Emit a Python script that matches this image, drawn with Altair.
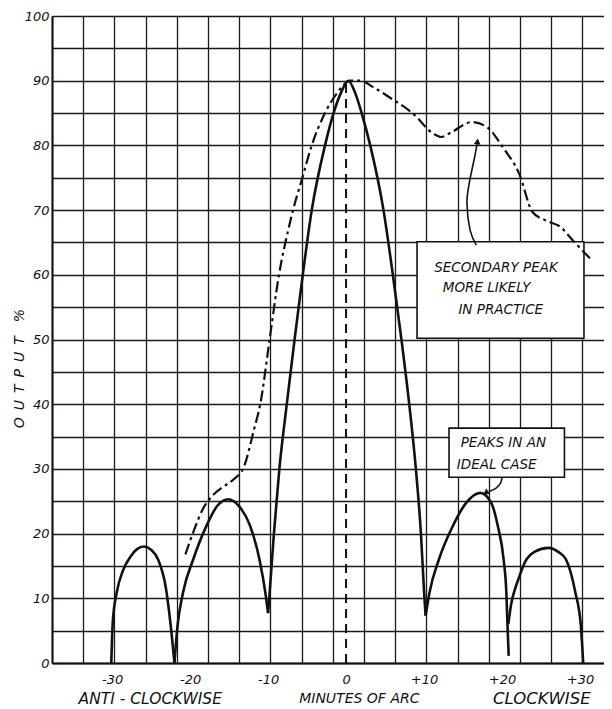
import altair as alt
import pandas as pd

# ---------------- data ----------------
x_tick_values = [-30, -20, -10, 0, 10, 20, 30]
y_tick_values = [0, 5, 10, 15, 20, 25, 30, 35, 40, 45, 50, 55, 60, 65, 70, 75, 80, 85, 90, 95, 100]

# ideal case (solid) - separate lobes so the minima stay sharp
lobe_l3_x = [-30.1, -29.9, -29.4, -28.6, -27.6, -26.8, -25.9, -25.0, -24.1, -23.1, -22.5, -22.0]
lobe_l3_y = [0, 6.5, 10.9, 14.3, 16.5, 17.6, 18.0, 17.5, 16.0, 11.6, 6.0, 0]
lobe_l2_x = [-22.0, -21.6, -20.9, -19.6, -17.9, -16.5, -15.1, -13.7, -12.3, -11.1, -10.35, -10.0]
lobe_l2_y = [0, 5.8, 10.9, 16.0, 21.2, 24.3, 25.3, 24.2, 21.2, 16.0, 10.9, 7.7]
main_x = [-10.0, -9.85, -9.25, -8.55, -7.6, -6.6, -5.55, -4.4, -2.7, -1.6, -0.7, 0.3,
          1.2, 2.0, 3.1, 4.8, 6.0, 7.1, 8.1, 8.95, 9.6, 10.05, 10.2]
main_y = [7.7, 10, 20, 30, 40, 50, 60, 70, 80, 85, 88, 90,
          88, 85, 80, 70, 60, 50, 40, 30, 20, 10, 7.3]
lobe_r1_x = [10.2, 10.7, 11.9, 13.7, 15.3, 17.2, 18.6, 19.45, 20.2, 20.55, 20.7, 20.85]
lobe_r1_y = [7.3, 10.9, 16.0, 21.2, 24.6, 26.3, 24.8, 21.2, 16.0, 10.9, 5.8, 1.1]
lobe_r2_x = [20.8, 21.2, 21.6, 22.2, 22.9, 24.2, 25.9, 27.3, 28.2, 29.4, 30.1, 30.4]
lobe_r2_y = [6.0, 9.3, 11.2, 13.3, 15.5, 17.2, 17.8, 17.1, 16.0, 10.9, 5.8, 0]

# practical case (dash-dot)
practice_x = [-20.6, -19.5, -18.4, -17.4, -15.8, -14.4, -13.1, -11.8, -11.0, -9.8, -8.6,
              -7.4, -6.8, -5.6, -4.4, -2.7, -1.2, 0.6, 1.8, 3.5, 5.6, 8.6, 11.2, 12.2,
              13.6, 16.1, 18.1, 20.1, 22.2, 23.9, 25.6, 27.7, 28.2, 31.3]
practice_y = [16.8, 20.5, 23.7, 25.5, 27.2, 28.4, 30.3, 36.1, 40, 50, 60,
              67, 70, 75, 80, 85, 88, 90, 90, 89, 87.4, 84.9, 81.8, 81.3,
              82.1, 83.6, 82.8, 79.7, 75.6, 69.7, 68.4, 67.2, 66.5, 62.5]

# centre line
centre_x = [0]
centre_y = [0]
centre_y2 = [89.5]

# annotation boxes
box_x = [9.1, 13.2]
box_x2 = [30.5, 28.0]
box_y = [50.2, 28.7]
box_y2 = [65.1, 36.3]

box_text = ["SECONDARY PEAK", "MORE LIKELY", "IN PRACTICE", "PEAKS IN AN", "IDEAL CASE"]
box_text_x = [11.3, 12.4, 14.4, 14.7, 14.2]
box_text_y = [61.0, 58.0, 54.6, 34.0, 30.6]

# arrows
arrow1_x = [16.7, 15.9, 15.5, 15.8, 16.4, 16.8]
arrow1_y = [64.6, 66.9, 71.1, 74.2, 77.7, 80.2]
arrow2_x = [20.0, 19.8, 19.2, 18.3]
arrow2_y = [28.7, 27.8, 27.0, 26.5]
head_x = [16.85, 17.9]
head_y = [80.6, 26.3]
head_angle = [5, 237]

# axis captions
caption_text = ["ANTI - CLOCKWISE", "MINUTES OF ARC", "CLOCKWISE"]
caption_x = [-25.1, 1.7, 25.1]
caption_y = [-5.6, -5.6, -5.6]
caption_size = [15.5, 14, 16.5]
ES = "\u2002"
ytitle_text = [ES.join(["O", "U", "T", "P", "U", "T", ES + "%"])]
ytitle_x = [-41.8]
ytitle_y = [45.5]

# ---------------- scales / axes ----------------
X_DOMAIN = [-37.7, 33.07]
grid_x = [round(-37.7 + 4 * k, 2) for k in range(18)]  # graph paper lines

FONT = "DejaVu Sans"
INK = "#111111"

xscale = alt.Scale(domain=X_DOMAIN, nice=False, zero=False)
yscale = alt.Scale(domain=[0, 100], nice=False, zero=False)

xaxis = alt.Axis(
    values=sorted(grid_x + x_tick_values),
    title=None,
    grid=True,
    gridColor="#1a1a1a",
    gridWidth=1.3,
    gridOpacity={"condition": {"test": "indexof([-30,-20,-10,0,10,20,30], datum.value) >= 0", "value": 0}, "value": 1},
    ticks=False,
    domain=True,
    domainColor=INK,
    domainWidth=2,
    labelExpr="abs(datum.value % 10) < 0.01 ? (datum.value > 0 ? '+' + datum.value : '' + datum.value) : ''",
    labelFont=FONT,
    labelFontStyle="italic",
    labelFontSize=13,
    labelColor=INK,
    labelPadding=10,
    labelOverlap=False,
    labelFlush=False,
)
yaxis = alt.Axis(
    values=y_tick_values,
    title=None,
    grid=True,
    gridColor="#1a1a1a",
    gridWidth=1.3,
    ticks=False,
    domain=True,
    domainColor=INK,
    domainWidth=2,
    labelExpr="datum.value % 10 == 0 ? datum.label : ''",
    labelFont=FONT,
    labelFontStyle="italic",
    labelFontSize=13,
    labelColor=INK,
    labelPadding=3,
    labelOverlap=False,
    labelFlush=False,
)


def X(f):
    return alt.X(f"{f}:Q", scale=xscale, axis=xaxis)


def Y(f):
    return alt.Y(f"{f}:Q", scale=yscale, axis=yaxis)


# ---------------- tables ----------------
solid_rows = []
for name, xs, ys in [("l3", lobe_l3_x, lobe_l3_y), ("l2", lobe_l2_x, lobe_l2_y),
                     ("main", main_x, main_y), ("r1", lobe_r1_x, lobe_r1_y),
                     ("r2", lobe_r2_x, lobe_r2_y)]:
    for xv, yv in zip(xs, ys):
        solid_rows.append({"x": xv, "y": yv, "lobe": name})
solid_df = pd.DataFrame(solid_rows)
practice_df = pd.DataFrame({"x": practice_x, "y": practice_y})
centre_df = pd.DataFrame({"x": centre_x, "y": centre_y, "y2": centre_y2})
box_df = pd.DataFrame({"x": box_x, "x2": box_x2, "y": box_y, "y2": box_y2})
btext_df = pd.DataFrame({"x": box_text_x, "y": box_text_y, "t": box_text})
arrow_df = pd.DataFrame({
    "x": arrow1_x + arrow2_x,
    "y": arrow1_y + arrow2_y,
    "a": ["a1"] * len(arrow1_x) + ["a2"] * len(arrow2_x),
    "o": list(range(len(arrow1_x))) + list(range(len(arrow2_x))),
})
head_df = pd.DataFrame({"x": head_x, "y": head_y, "ang": head_angle})
cap_df = pd.DataFrame({"x": caption_x, "y": caption_y, "t": caption_text, "s": caption_size})
ytitle_df = pd.DataFrame({"x": ytitle_x, "y": ytitle_y, "t": ytitle_text})

# ---------------- layers ----------------
boxes = alt.Chart(box_df).mark_rect(fill="white", stroke=INK, strokeWidth=1.6).encode(
    x=X("x"), x2="x2", y=Y("y"), y2="y2")

centre = alt.Chart(centre_df).mark_rule(color=INK, strokeWidth=2, strokeDash=[9, 6]).encode(
    x=X("x"), y=Y("y"), y2="y2")

solid = alt.Chart(solid_df).mark_line(color=INK, strokeWidth=2.6, interpolate="monotone").encode(
    x=X("x"), y=Y("y"), detail="lobe:N")

practice = alt.Chart(practice_df).mark_line(
    color=INK, strokeWidth=2.2, interpolate="monotone", strokeDash=[11, 4, 3, 4]).encode(
    x=X("x"), y=Y("y"))

arrows = alt.Chart(arrow_df).mark_line(color=INK, strokeWidth=1.6, interpolate="cardinal").encode(
    x=X("x"), y=Y("y"), detail="a:N", order="o:Q")

heads = alt.Chart(head_df).mark_point(shape="triangle-up", filled=True, color=INK, size=45, opacity=1).encode(
    x=X("x"), y=Y("y"), angle=alt.Angle("ang:Q", scale=None))

btext = alt.Chart(btext_df).mark_text(
    align="left", baseline="middle", font=FONT, fontStyle="italic", fontSize=13.5, color=INK).encode(
    x=X("x"), y=Y("y"), text="t:N")

captions = alt.Chart(cap_df).mark_text(
    align="center", baseline="middle", font=FONT, fontStyle="italic", color=INK).encode(
    x=X("x"), y=Y("y"), text="t:N", size=alt.Size("s:Q", scale=None, legend=None))

ytitle = alt.Chart(ytitle_df).mark_text(
    align="center", baseline="middle", font=FONT, fontStyle="italic", fontSize=14, color=INK, angle=270).encode(
    x=X("x"), y=Y("y"), text="t:N")

chart = alt.layer(boxes, centre, solid, practice, arrows, heads, btext, captions, ytitle).properties(
    width=552,
    height=647,
    padding={"left": 44, "top": 8, "right": 0, "bottom": 44},
    autosize=alt.AutoSizeParams(type="none"),
    background="white",
).configure_view(stroke=None)

chart.save("out.html", embed_options={"renderer": "svg", "actions": False})
